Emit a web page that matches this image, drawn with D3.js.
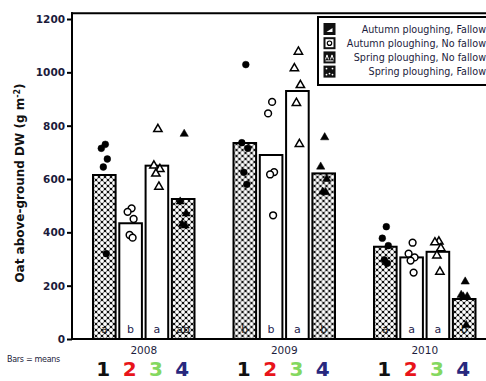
<!DOCTYPE html>
<html><head><meta charset="utf-8">
<script src="https://cdn.jsdelivr.net/npm/d3@7"></script>
<style>
html,body{margin:0;padding:0;background:#fff;}
svg{display:block;font-family:"DejaVu Sans",Verdana,sans-serif;}
</style></head>
<body>
<svg id="c" width="486" height="381"></svg>
<script>
// ---- data ----
const years = ["2008", "2009", "2010"];
const treatments = ["Autumn ploughing, Fallow", "Autumn ploughing, No fallow", "Spring ploughing, No fallow", "Spring ploughing, Fallow"];
const treatmentNumbers = ["1", "2", "3", "4"];
const yTicks = [0, 200, 400, 600, 800, 1000, 1200];
// bar means [year][treatment]
const means2008 = [615, 434, 650, 525];
const means2009 = [735, 690, 930, 621];
const means2010 = [346, 306, 327, 150];
// individual replicate values [treatment][rep]
const reps2008 = [[730, 715, 675, 645, 320], [490, 477, 450, 390, 380], [787, 650, 637, 620, 571], [769, 515, 470, 430, 425]];
const reps2009 = [[1029, 736, 715, 625, 580], [889, 846, 626, 617, 464], [1077, 1015, 952, 885, 731], [756, 646, 600, 552, 550]];
const reps2010 = [[421, 378, 350, 297, 284], [361, 320, 306, 294, 249], [365, 362, 340, 313, 252], [215, 165, 159, 159, 52]];
// significance letters
const letters2008 = ["a", "b", "a", "ab"];
const letters2009 = ["b", "b", "a", "b"];
const letters2010 = ["a", "a", "a", "b"];

const means = [means2008, means2009, means2010];
const reps = [reps2008, reps2009, reps2010];
const letters = [letters2008, letters2009, letters2010];

// ---- layout ----
const svg = d3.select("#c");
const axisX = 72, baseY = 339;
const y = d3.scaleLinear().domain([0, 1200]).range([baseY, 19]);
const x0 = d3.scaleBand().domain(years).range([93, 93 + 3 * 140.5]).padding(0);
const x1 = d3.scaleBand().domain(d3.range(4)).range([0, 101.5]).paddingInner(0.14).paddingOuter(0);
const numColors = ["#111111", "#e8141a", "#84d860", "#28287e"];
const dark = [true, false, false, true];
const symbols = [d3.symbolCircle, d3.symbolCircle, d3.symbolTriangle, d3.symbolTriangle];
const filled = [true, false, false, true];
const jit = [1, -3, 3, -1, 2];

// pattern
const defs = svg.append("defs");
const pat = defs.append("pattern").attr("id", "xh").attr("patternUnits", "userSpaceOnUse")
  .attr("width", 6).attr("height", 6);
pat.append("rect").attr("width", 6).attr("height", 6).attr("fill", "#111");
[[0,0],[6,0],[0,6],[6,6],[3,3]].forEach(p => pat.append("circle").attr("cx", p[0]).attr("cy", p[1]).attr("r", 1.95).attr("fill", "#fff"));

// bars
years.forEach((yr, gi) => {
  const g = svg.append("g").attr("transform", `translate(${x0(yr)},0)`);
  means[gi].forEach((m, ti) => {
    g.append("rect")
      .attr("x", x1(ti)).attr("y", y(m))
      .attr("width", x1.bandwidth()).attr("height", baseY - y(m))
      .attr("fill", dark[ti] ? "url(#xh)" : "#fff")
      .attr("stroke", "#000").attr("stroke-width", 2);
    g.append("text")
      .attr("x", x1(ti) + x1.bandwidth() / 2).attr("y", 333)
      .attr("text-anchor", "middle").attr("font-size", 11)
      .attr("fill", dark[ti] ? "#222" : "#1d1d4d")
      .text(letters[gi][ti]);
  });
  reps[gi].forEach((vals, ti) => {
    vals.forEach((v, ri) => {
      const cx = x1(ti) + x1.bandwidth() / 2 + jit[ri];
      const sym = d3.symbol().type(symbols[ti]).size(ti < 2 ? 36 : 30);
      g.append("path").attr("d", sym())
        .attr("transform", `translate(${cx},${y(v)})`)
        .attr("fill", filled[ti] ? "#000" : "#fff")
        .attr("stroke", "#000").attr("stroke-width", filled[ti] ? 0.5 : 1.5);
    });
  });
  // year label
  svg.append("text").attr("x", x0(yr) + 101.5 / 2).attr("y", 354)
    .attr("text-anchor", "middle").attr("font-size", 10.5).attr("fill", "#1d1d3d").text(yr);
  // treatment numbers
  treatmentNumbers.forEach((n, ti) => {
    svg.append("text").attr("x", x0(yr) + x1(ti) + x1.bandwidth() / 2 - 1).attr("y", 376)
      .attr("text-anchor", "middle").attr("font-size", 20).attr("font-weight", "bold")
      .attr("fill", numColors[ti]).text(n);
  });
});

// axes / frame
const yAxis = d3.axisLeft(y).tickValues(yTicks).tickSize(5).tickPadding(2).tickFormat(d3.format("d"));
const ga = svg.append("g").attr("transform", `translate(${axisX},0)`).call(yAxis);
ga.select(".domain").remove();
ga.selectAll(".tick line").attr("stroke", "#000").attr("stroke-width", 2);
ga.selectAll(".tick text").attr("font-size", 10.5).attr("font-weight", "bold")
  .attr("fill", "#1b1b3b").attr("font-family", "DejaVu Sans, sans-serif");
const topY = y(1222);
svg.append("line").attr("x1", axisX).attr("x2", axisX).attr("y1", topY - 1).attr("y2", baseY + 1).attr("stroke", "#000").attr("stroke-width", 2);
svg.append("line").attr("x1", axisX - 1).attr("x2", 486).attr("y1", topY).attr("y2", topY).attr("stroke", "#000").attr("stroke-width", 2);
svg.append("line").attr("x1", axisX - 1).attr("x2", 486).attr("y1", baseY).attr("y2", baseY).attr("stroke", "#000").attr("stroke-width", 2);

// y title
const yt = svg.append("text").attr("transform", `translate(24,183) rotate(-90)`)
  .attr("text-anchor", "middle").attr("font-size", 12).attr("font-weight", "bold").attr("fill", "#111");
yt.append("tspan").text("Oat above-ground DW (g m");
yt.append("tspan").attr("font-size", 8).attr("dy", -4).text("-2");
yt.append("tspan").attr("dy", 4).text(")");

// bars = means
svg.append("text").attr("x", 7).attr("y", 362).attr("font-size", 8).attr("fill", "#1b1b3b")
  .attr("letter-spacing", -0.3).text("Bars = means");

// legend
const lg = svg.append("g");
lg.append("rect").attr("x", 318).attr("y", 17).attr("width", 180).attr("height", 68)
  .attr("fill", "#fff").attr("stroke", "#000").attr("stroke-width", 2);
treatments.forEach((t, i) => {
  const cy = 29 + i * 14.2;
  const gi = lg.append("g").attr("transform", `translate(329.5,${cy})`);
  gi.append("rect").attr("x", -6).attr("y", -6).attr("width", 12).attr("height", 12).attr("fill", "#111");
  if (i === 0) {
    gi.append("path").attr("d", "M-3,3 L3,3 L3,-1 Z").attr("fill", "#fff");
  } else if (i === 1) {
    gi.append("rect").attr("x", -4).attr("y", -4).attr("width", 8).attr("height", 8).attr("fill", "#fff");
    gi.append("circle").attr("r", 2.2).attr("fill", "none").attr("stroke", "#000").attr("stroke-width", 1.2);
  } else if (i === 2) {
    gi.append("path").attr("d", "M-4,2 L-2.5,-2.5 L-1,2 M1,2 L2.5,-2.5 L4,2 M-4,3.5 L4,3.5").attr("fill", "none").attr("stroke", "#fff").attr("stroke-width", 1);
  } else {
    [[-3,-3],[3,-3],[0,2],[-3,3],[3,3]].forEach(p => gi.append("circle").attr("cx", p[0]).attr("cy", p[1]).attr("r", 0.9).attr("fill", "#fff"));
  }
  lg.append("text").attr("x", 486).attr("y", cy + 3.5).attr("text-anchor", "end")
    .attr("font-size", 9.6).attr("fill", "#1b1b3b").text(t);
});
</script>
</body></html>
